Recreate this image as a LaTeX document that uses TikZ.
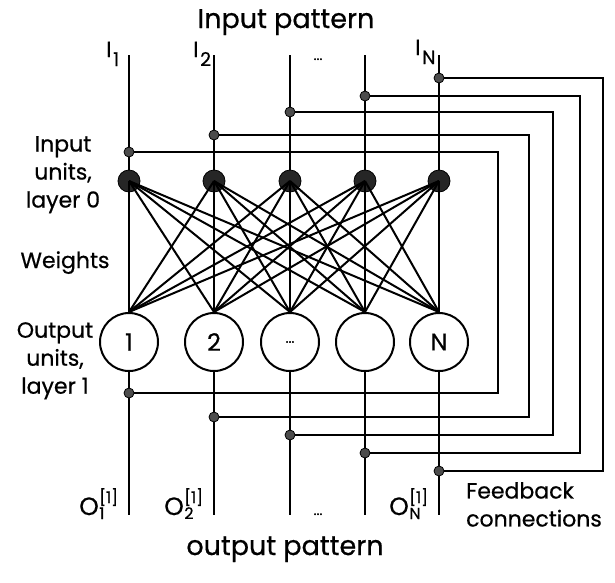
\documentclass[tikz,border=0pt]{standalone}
\usepackage{fontspec}
\setmainfont{Poppins}[FakeBold=0.6]
\newcommand\myfs[2]{\fontsize{#1}{#2}\selectfont}
\newcommand\ilab[1]{\myfs{22}{22}I\kern1.5pt\raisebox{-9pt}{\myfs{19}{19}#1}}
\newcommand\olab[1]{\myfs{25}{25}O\kern0.5pt\rlap{\raisebox{-4pt}{\myfs{16}{16}#1}}\raisebox{12pt}{\myfs{16}{16}[1]}}
\begin{document}
\begin{tikzpicture}[x=1pt,y=-1pt,
  inunit/.style={circle,fill=black!85,draw=black,line width=0.8pt,minimum size=22pt,inner sep=0pt},
  outunit/.style={circle,draw=black,line width=2pt,minimum size=58pt,inner sep=0pt,font=\myfs{24}{24}},
  jdot/.style={circle,fill=black!70,draw=black,line width=0.8pt,minimum size=10pt,inner sep=0pt},
  wline/.style={line width=2pt},
  fbline/.style={line width=1.3pt},
  lab/.style={inner sep=0pt,font=\myfs{22}{28},align=center},
  ttl/.style={inner sep=0pt,font=\myfs{27}{27}},
  dotlab/.style={inner sep=0pt,font=\myfs{14}{14}}]
\useasboundingbox (0,0) rectangle (615,582);
\fill[white] (0,0) rectangle (615,582);
% columns
\foreach \i/\x in {1/129,2/214,3/290,4/365,5/439}{
  \coordinate (t\i) at (\x,55);
  \coordinate (b\i) at (\x,515);
  \node[inunit] (in\i) at (\x,181) {};
}
\node[outunit] (out1) at (129,342) {1};
\node[outunit] (out2) at (214,342) {2};
\node[outunit] (out3) at (290,342) {\myfs{14}{14}...};
\node[outunit] (out4) at (365,342) {};
\node[outunit] (out5) at (439,342) {N};
% input lines, weights, output lines
\foreach \i in {1,...,5}{
  \draw[wline] (t\i) -- (in\i);
  \draw[wline] (out\i) -- (b\i);
  \foreach \j in {1,...,5}{
    \draw[wline] (in\i.center) -- (out\j.north);
  }
}
% feedback connections
\foreach \i/\x/\yi/\fx/\yo in {1/129/152/498/393,2/214/135/529/417,3/290/112/553/435,4/365/96/580/453,5/439/78/603/471}{
  \coordinate (ci\i) at (\fx,\yi);
  \coordinate (co\i) at (\fx,\yo);
  \node[jdot] (ji\i) at (\x,\yi) {};
  \node[jdot] (jo\i) at (\x,\yo) {};
  \draw[fbline] (ji\i) -- (ci\i) -- (co\i) -- (jo\i);
}
% labels
\node[ttl,anchor=base] (title) at (286,28) {Input pattern};
\node[ttl,anchor=base] (otitle) at (285,555) {output pattern};
\node[inner sep=0pt,anchor=base west] (il1) at (106,57) {\ilab{1}};
\node[inner sep=0pt,anchor=base west] (il2) at (193,57) {\ilab{2}};
\node[inner sep=0pt,anchor=base west] (il5) at (415,55) {\ilab{N}};
\node[dotlab,anchor=base] (idots) at (318,60) {...};
\node[inner sep=0pt,anchor=base west] (ol1) at (79,515) {\olab{1}};
\node[inner sep=0pt,anchor=base west] (ol2) at (164,515) {\olab{2}};
\node[inner sep=0pt,anchor=base west] (ol5) at (389,515) {\olab{N}};
\node[dotlab,anchor=base] (odots) at (318,515) {...};
\node[lab,anchor=north] (inlab) at (63,136) {Input\\units,\\layer 0};
\node[lab,anchor=base] (wlab) at (65,268) {Weights};
\node[lab,anchor=north] (outlab) at (55,322) {Output\\units,\\layer 1};
\node[lab,align=left,anchor=north west] (fblab) at (466,482) {Feedback\\connections};
\end{tikzpicture}
\end{document}
